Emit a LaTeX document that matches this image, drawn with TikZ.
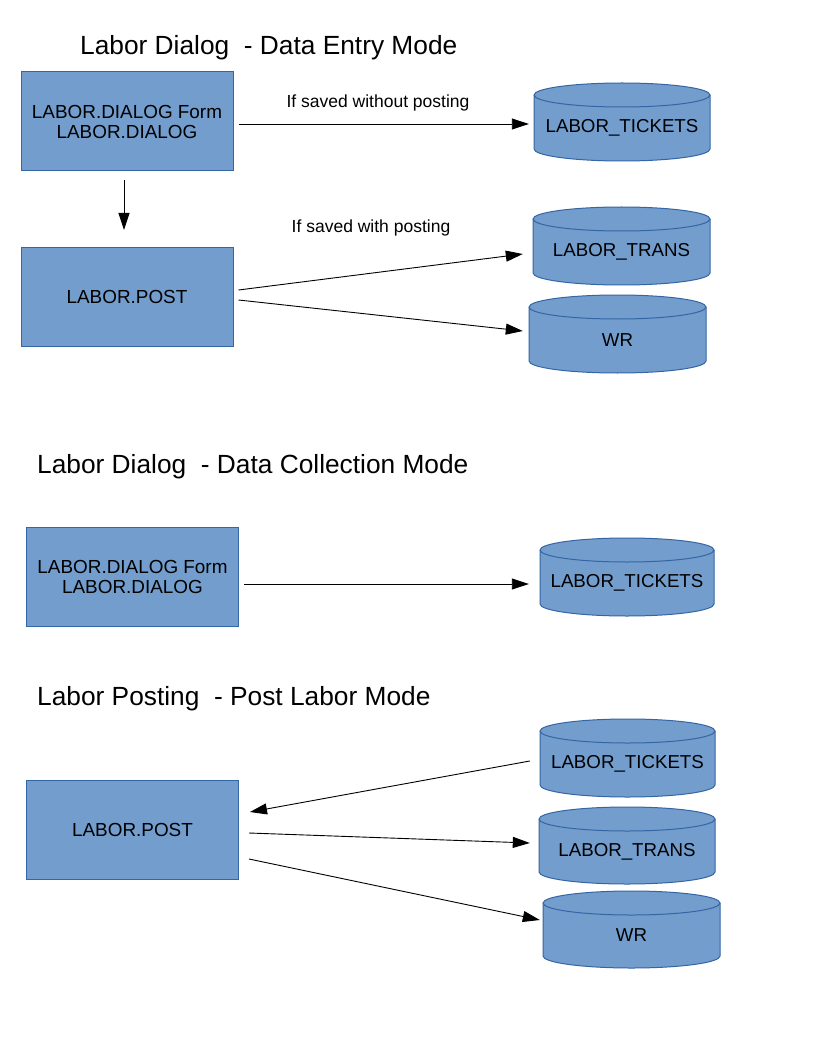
\documentclass[tikz,border=0pt]{standalone}
\usepackage{fontspec}
\setmainfont{Liberation Sans}
\usetikzlibrary{arrows.meta,calc}
\definecolor{boxfill}{RGB}{114,157,205}
\definecolor{boxline}{RGB}{52,101,164}
\tikzset{
  box/.style={draw=boxline, fill=boxfill, line width=1pt, minimum width=212pt, minimum height=99pt,
    align=center, font=\fontsize{18.9}{20}\selectfont, inner sep=0pt},
  cylbody/.style={draw=boxline, fill=boxfill, line width=1pt},
  cyltext/.style={font=\fontsize{18.7}{20}\selectfont, inner sep=0pt},
  cylarea/.style={draw=none, inner sep=0pt},
  title/.style={anchor=base west, font=\fontsize{26.3}{30}\selectfont, inner sep=0pt},
  lbl/.style={anchor=base, font=\fontsize{17.5}{20}\selectfont, inner sep=0pt},
  arr/.style={line width=0.9pt, -{Triangle[length=17pt,width=11pt]}}
}
% name, x1, y1, x2, y2, text
\newcommand\dbcyl[6]{%
  \pgfmathsetmacro\cylrx{(#4-#2)/2}%
  \pgfmathsetmacro\cylcx{(#2+#4)/2}%
  \pgfmathsetmacro\cylcy{(#3+#5)/2}%
  \pgfmathsetmacro\cylty{(#3+12+#5)/2}%
  \pgfmathsetmacro\cylw{#4-#2}%
  \pgfmathsetmacro\cylh{#5-#3}%
  \path[cylbody] (#2,#3+12) -- (#2,#5-12)
     arc[start angle=180,end angle=360,x radius=\cylrx pt,y radius=12pt]
     -- (#4,#3+12)
     arc[start angle=0,end angle=180,x radius=\cylrx pt,y radius=12pt] -- cycle;
  \draw[cylbody, fill=none] (#2,#3+12)
     arc[start angle=180,end angle=360,x radius=\cylrx pt,y radius=12pt];
  \node[cylarea, minimum width=\cylw pt, minimum height=\cylh pt] (#1) at (\cylcx,\cylcy) {};
  \node[cyltext] (#1t) at (\cylcx,\cylty) {#6};
}
\begin{document}
\begin{tikzpicture}[x=1pt,y=-1pt]
\path[use as bounding box, fill=white] (0,0) rectangle (816,1056);

% ---------- Section 1 ----------
\node[title] (title1) at (80,55) {Labor Dialog\ \ - Data Entry Mode};
\node[box] (b1) at (127,121.5) {LABOR.DIALOG Form\\LABOR.DIALOG};
\node[box] (p1) at (127,297) {LABOR.POST};
\dbcyl{t1}{534}{83}{710}{161}{LABOR\_TICKETS}
\dbcyl{tr1}{533}{207}{710}{285}{LABOR\_TRANS}
\dbcyl{wr1}{529}{295}{706}{373}{WR}
\node[lbl] (l1) at (378,108) {If saved without posting};
\node[lbl] (l2) at (371,233) {If saved with posting};

\draw[arr] ($(b1.east)+(5,2.5)$) -- ($(t1.west)+(-5,2)$);
\draw[arr] ($(b1.south)+(-3,9)$) -- ($(p1.north)+(-3,-17)$);
\draw[arr] ($(p1.east)+(5,-7)$) -- ($(tr1.west)+(-10,8)$);
\draw[arr] ($(p1.east)+(5,3)$) -- ($(wr1.west)+(-6,-3)$);

% ---------- Section 2 ----------
\node[title] (title2) at (37,473) {Labor Dialog\ \ - Data Collection Mode};
\node[box] (b2) at (132.5,576.5) {LABOR.DIALOG Form\\LABOR.DIALOG};
\dbcyl{t2}{540}{538}{714}{616}{LABOR\_TICKETS}
\draw[arr] ($(b2.east)+(5,7.5)$) -- ($(t2.west)+(-11,7)$);

% ---------- Section 3 ----------
\node[title] (title3) at (37,705) {Labor Posting\ \ - Post Labor Mode};
\node[box] (p3) at (132.5,830) {LABOR.POST};
\dbcyl{t3}{540}{719}{715}{797}{LABOR\_TICKETS}
\dbcyl{tr3}{539}{807}{715}{884}{LABOR\_TRANS}
\dbcyl{wr3}{543}{891}{720}{968}{WR}
\draw[arr] ($(t3.west)+(-10,3)$) -- ($(p3.east)+(11,-18)$);
\draw[arr] ($(p3.east)+(10,3)$) -- ($(tr3.west)+(-9,-2.5)$);
\draw[arr] ($(p3.east)+(10,29)$) -- ($(wr3.west)+(-3,-9.5)$);
\end{tikzpicture}
\end{document}
